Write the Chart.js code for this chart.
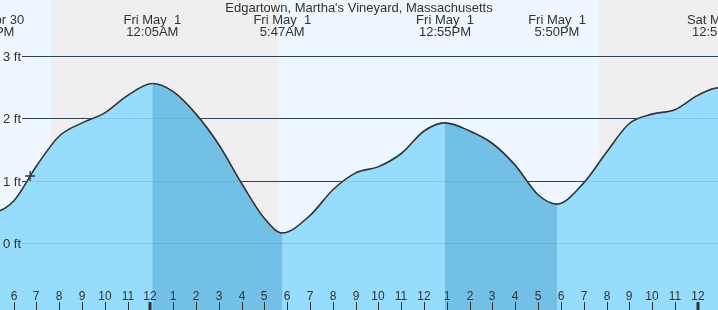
<!DOCTYPE html>
<html>
<head>
<meta charset="utf-8">
<script src="https://cdn.jsdelivr.net/npm/chart.js@4/dist/chart.umd.min.js"></script>
<style>
  html,body{margin:0;padding:0;background:#fff}
  #wrap{width:718px;height:310px;position:relative}
</style>
</head>
<body>
<div id="wrap"><canvas id="tide"></canvas></div>
<script>
// heures depuis minuit le 1er mai, hauteurs en pieds
const tideHours = [-8, -6.95, -6, -5, -4, -3, -2, -1, 0.083, 1, 2, 3, 4, 5, 5.78, 7, 8, 9, 10, 11, 12, 12.917, 14, 15, 16, 17, 17.83, 19, 20, 21, 22, 23, 24, 24.89, 26];
const tideFeet  = [0.7, 0.50, 0.68, 1.24, 1.72, 1.93, 2.09, 2.37, 2.56, 2.43, 2.07, 1.58, 0.96, 0.40, 0.17, 0.45, 0.86, 1.13, 1.23, 1.44, 1.80, 1.93, 1.80, 1.60, 1.25, 0.78, 0.63, 0.97, 1.46, 1.92, 2.07, 2.14, 2.37, 2.49, 2.3];

// marées (étiquettes du haut)
const eventHours = [-6.95, 0.083, 5.78, 12.917, 17.83, 24.89];
const eventDays  = ['Thu Apr 30', 'Fri May  1', 'Fri May  1', 'Fri May  1', 'Fri May  1', 'Sat May  2'];
const eventTimes = ['5:03PM', '12:05AM', '5:47AM', '12:55PM', '5:50PM', '12:53AM'];

// descendant (haute -> basse)
const ebbStart = [0.083, 12.917];
const ebbEnd   = [5.78, 17.83];

// nuit
const nightStart = [-4.37, 19.67];
const nightEnd   = [5.63, 27];

const nowHour = -5.28, nowFeet = 1.08;

const yTicks = [0, 1, 2, 3];
const hourTicks = []; for (let h = -6; h <= 24; h++) hourTicks.push(h);
const hourLabel = h => { const m = ((h % 12) + 12) % 12; return String(m === 0 ? 12 : m); };

const LIGHT = 'rgb(149,220,253)', DARK = 'rgb(115,192,230)', INK = '#333';
const FONT = '"Liberation Sans", Arial, sans-serif';

const inEbb = (a, b) => ebbStart.some((s, i) => a >= s - 1e-6 && b <= ebbEnd[i] + 1e-6);
const pts = tideHours.map((h, i) => ({x: h, y: tideFeet[i]}));

const decor = {
  id: 'decor',
  beforeDraw(chart){
    const {ctx, chartArea: a, scales: {x}} = chart;
    ctx.save();
    ctx.fillStyle = 'rgb(238,247,255)';
    ctx.fillRect(a.left, a.top, a.width, a.height);
    ctx.fillStyle = 'rgb(239,239,239)';
    nightStart.forEach((s, i) => {
      const x0 = x.getPixelForValue(s), x1 = x.getPixelForValue(nightEnd[i]);
      ctx.fillRect(x0, a.top, x1 - x0, a.height);
    });
    ctx.restore();
  },
  beforeDatasetsDraw(chart){
    const {ctx, chartArea: a, scales: {y}} = chart;
    ctx.save();
    ctx.strokeStyle = INK; ctx.lineWidth = 1;
    yTicks.forEach(v => {
      const py = Math.round(y.getPixelForValue(v)) + 0.5;
      ctx.beginPath(); ctx.moveTo(22, py); ctx.lineTo(a.right, py); ctx.stroke();
    });
    ctx.restore();
  },
  afterDatasetsDraw(chart){
    const {ctx, chartArea: a, scales: {x, y}} = chart;
    ctx.save();
    // lignes visibles à travers l'eau
    ctx.strokeStyle = 'rgba(40,130,190,0.22)'; ctx.lineWidth = 1;
    yTicks.forEach(v => {
      const py = Math.round(y.getPixelForValue(v)) + 0.5;
      ctx.beginPath(); ctx.moveTo(22, py); ctx.lineTo(a.right, py); ctx.stroke();
    });
    ctx.fillStyle = INK;
    ctx.font = '13px ' + FONT;
    ctx.textAlign = 'left'; ctx.textBaseline = 'middle';
    yTicks.forEach(v => ctx.fillText(v + ' ft', 3, Math.round(y.getPixelForValue(v)) + 1));
    // heures
    ctx.font = '12px ' + FONT;
    ctx.textAlign = 'center'; ctx.textBaseline = 'alphabetic';
    ctx.strokeStyle = INK;
    hourTicks.forEach(h => {
      const px = Math.round(x.getPixelForValue(h));
      ctx.fillText(hourLabel(h), px, 300);
      const mid = (h % 24 === 0);
      ctx.lineWidth = mid ? 3 : 1;
      ctx.beginPath(); ctx.moveTo(mid ? px : px + 0.5, 302); ctx.lineTo(mid ? px : px + 0.5, 310); ctx.stroke();
    });
    // titre + marées
    ctx.font = '13px ' + FONT;
    ctx.fillText("Edgartown, Martha's Vineyard, Massachusetts", 359, 12);
    eventHours.forEach((h, i) => {
      const px = x.getPixelForValue(h);
      ctx.fillText(eventDays[i], px, 24);
      ctx.fillText(eventTimes[i], px, 36);
    });
    ctx.restore();
  }
};

new Chart(document.getElementById('tide'), {
  type: 'line',
  data: {
    datasets: [{
      // courbe + zones descendantes
      data: pts, order: 1,
      borderColor: INK, borderWidth: 1.6,
      backgroundColor: 'rgba(0,0,0,0)',
      fill: 'start', pointRadius: 0,
      cubicInterpolationMode: 'monotone',
      segment: { backgroundColor: c => inEbb(c.p0.parsed.x, c.p1.parsed.x) ? DARK : 'rgba(0,0,0,0)' }
    }, {
      // eau (fond)
      data: pts, order: 2,
      borderWidth: 0, borderColor: 'rgba(0,0,0,0)',
      backgroundColor: LIGHT,
      fill: 'start', pointRadius: 0,
      cubicInterpolationMode: 'monotone'
    }, {
      type: 'scatter', order: -1,
      data: [{x: nowHour, y: nowFeet}],
      pointStyle: 'cross', pointRadius: 5, borderColor: INK, borderWidth: 1.3
    }]
  },
  options: {
    responsive: true, maintainAspectRatio: false, animation: false,
    layout: { padding: 0, autoPadding: false },
    plugins: { legend: {display: false}, tooltip: {enabled: false} },
    scales: {
      x: { type: 'linear', min: -6.6, max: 24.89, display: false },
      y: { min: -1.064, max: 3.896, display: false }
    }
  },
  plugins: [decor]
});
</script>
</body>
</html>
